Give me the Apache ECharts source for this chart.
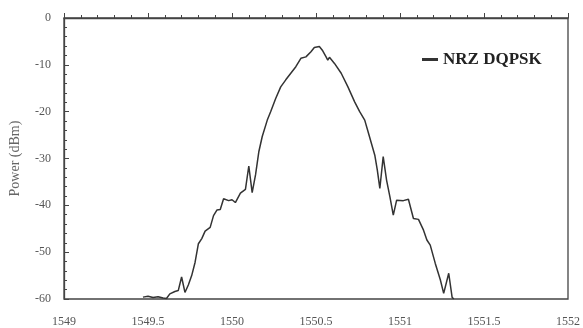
<!DOCTYPE html>
<html><head><meta charset="utf-8">
<script src="https://cdn.jsdelivr.net/npm/echarts@6/dist/echarts.min.js"></script>
<style>html,body{margin:0;padding:0;background:#fff}#c{width:583px;height:328px}</style>
</head><body><div id="c"></div>
<script>
const seriesName = 'NRZ DQPSK';
const wavelength = [1549.47,1549.50,1549.53,1549.56,1549.59,1549.61,1549.63,1549.66,1549.68,1549.70,1549.72,1549.74,1549.76,1549.78,1549.80,1549.82,1549.84,1549.87,1549.89,1549.91,1549.93,1549.95,1549.98,1550.00,1550.02,1550.05,1550.08,1550.10,1550.12,1550.14,1550.16,1550.18,1550.21,1550.23,1550.26,1550.29,1550.32,1550.35,1550.38,1550.41,1550.44,1550.47,1550.49,1550.52,1550.54,1550.56,1550.57,1550.58,1550.61,1550.65,1550.69,1550.73,1550.76,1550.79,1550.81,1550.83,1550.85,1550.865,1550.88,1550.90,1550.92,1550.94,1550.96,1550.98,1551.02,1551.05,1551.08,1551.11,1551.14,1551.16,1551.18,1551.21,1551.24,1551.26,1551.27,1551.29,1551.31,1551.32];
const power = [-59.6,-59.4,-59.7,-59.5,-59.8,-59.9,-58.9,-58.4,-58.2,-55.3,-58.6,-57.0,-55.0,-52.2,-48.2,-47.1,-45.5,-44.7,-42.2,-41.0,-40.9,-38.6,-39.0,-38.8,-39.4,-37.4,-36.6,-31.6,-37.3,-33.5,-28.5,-25.3,-21.8,-20.0,-17.2,-14.7,-13.2,-11.8,-10.4,-8.6,-8.3,-7.2,-6.3,-6.1,-7.0,-8.3,-9.0,-8.4,-9.7,-11.8,-14.7,-17.9,-20.0,-21.8,-24.3,-26.8,-29.3,-32.5,-36.4,-29.6,-34.6,-38.2,-42.1,-38.9,-39.0,-38.7,-42.8,-43.0,-45.3,-47.4,-48.5,-52.4,-55.9,-58.8,-58.9,-54.5,-59.6,-60];
const xTicks = {min:1549, max:1552, step:0.5};
const yTicks = {min:-60, max:0, step:10};

const chart = echarts.init(document.getElementById('c'), null, {renderer:'canvas'});
const font = "'Liberation Serif','DejaVu Serif',serif";
chart.setOption({
  animation:false,
  grid:{left:64,right:12,top:18,bottom:29,show:true,borderColor:'#444',borderWidth:1.3},
  legend:{left:417,top:46,icon:'rect',itemWidth:16,itemHeight:3,itemGap:10,
    textStyle:{fontFamily:font,fontWeight:'bold',fontSize:17,color:'#222'},data:[seriesName]},
  xAxis:{type:'value',min:xTicks.min,max:xTicks.max,interval:xTicks.step,
    axisLine:{lineStyle:{color:'#444',width:1.3}},
    axisTick:{inside:true,length:5,lineStyle:{color:'#444'}},
    minorTick:{show:true,splitNumber:5,length:3,lineStyle:{color:'#444'}},
    splitLine:{show:false},
    axisLabel:{fontFamily:font,fontSize:12,color:'#555',margin:17,showMaxLabel:true,
      formatter:v=>String(+v.toFixed(1))}},
  yAxis:{type:'value',min:yTicks.min,max:yTicks.max,interval:yTicks.step,
    name:'Power (dBm)',nameLocation:'middle',nameGap:42,
    nameTextStyle:{fontFamily:font,fontSize:14,color:'#666'},
    axisLine:{lineStyle:{color:'#444',width:1.3}},
    axisTick:{inside:true,length:5,lineStyle:{color:'#444'}},
    minorTick:{show:true,splitNumber:5,length:3,lineStyle:{color:'#444'}},
    splitLine:{show:false},
    axisLabel:{fontFamily:font,fontSize:12,color:'#555',margin:13}},
  series:[{name:seriesName,type:'line',showSymbol:false,symbol:'none',
    data:wavelength.map((w,i)=>[w,power[i]]),
    lineStyle:{color:'#333',width:1.5},itemStyle:{color:'#333'}}]
});
</script></body></html>
